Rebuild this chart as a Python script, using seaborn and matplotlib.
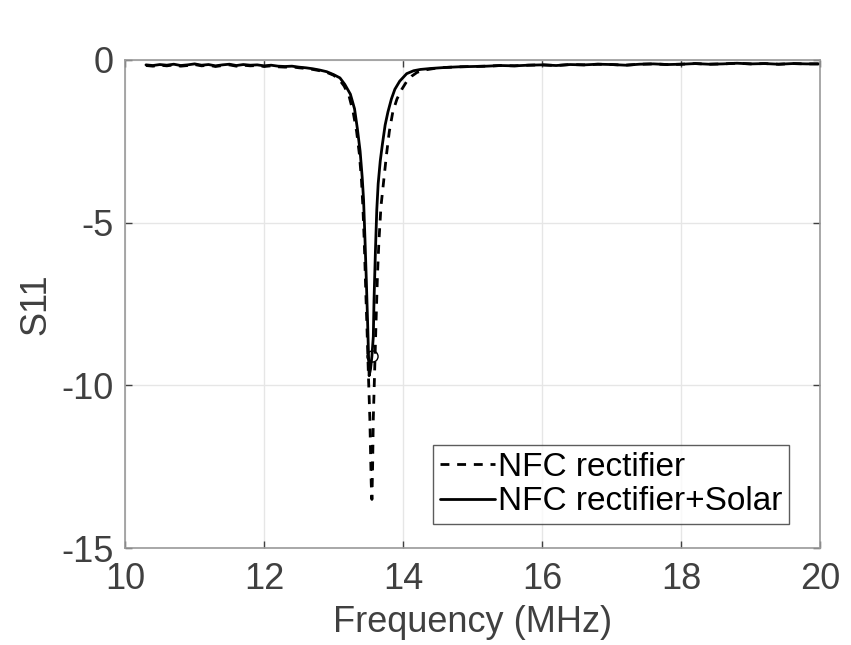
import numpy as np
import pandas as pd
import matplotlib
matplotlib.use("Agg")
import matplotlib.pyplot as plt
import seaborn as sns

# Data (frequency in MHz, S11)
freq_base_left = [10.30, 10.40, 10.50, 10.60, 10.70, 10.80, 10.90, 11.00, 11.10, 11.20,
                  11.30, 11.40, 11.50, 11.60, 11.70, 11.80, 11.90, 12.00, 12.10, 12.20,
                  12.30, 12.40, 12.50, 12.60, 12.70, 12.80, 12.90]
s11_base_left = [-0.15, -0.17, -0.14, -0.16, -0.13, -0.17, -0.15, -0.12, -0.16, -0.14,
                 -0.18, -0.15, -0.13, -0.17, -0.14, -0.16, -0.15, -0.18, -0.16, -0.19,
                 -0.20, -0.19, -0.22, -0.24, -0.27, -0.31, -0.36]

freq_base_right = [14.60, 14.80, 15.00, 15.20, 15.40, 15.60, 15.80, 16.00, 16.20, 16.40,
                   16.60, 16.80, 17.00, 17.20, 17.40, 17.60, 17.80, 18.00, 18.20, 18.40,
                   18.60, 18.80, 19.00, 19.20, 19.40, 19.60, 19.80, 20.00]
s11_base_right = [-0.23, -0.21, -0.20, -0.19, -0.17, -0.18, -0.16, -0.15, -0.17, -0.14,
                  -0.15, -0.13, -0.14, -0.16, -0.13, -0.12, -0.14, -0.13, -0.11, -0.13,
                  -0.12, -0.10, -0.12, -0.11, -0.13, -0.11, -0.12, -0.12]

# NFC rectifier (dashed) resonance
freq_nfc_dip = [13.00, 13.08, 13.15, 13.22, 13.28, 13.33, 13.37, 13.40, 13.42, 13.44,
                13.46, 13.48, 13.50, 13.52, 13.53, 13.54, 13.55, 13.56, 13.57, 13.59,
                13.61, 13.63, 13.65, 13.68, 13.72, 13.76, 13.80, 13.85, 13.91, 13.98,
                14.05, 14.12, 14.20, 14.30, 14.45]
s11_nfc_dip = [-0.47, -0.60, -0.80, -1.10, -1.60, -2.20, -2.90, -3.70, -4.50, -5.60,
               -7.00, -8.30, -9.70, -11.0, -12.0, -13.0, -13.5, -12.5, -11.0, -9.50,
               -8.00, -6.60, -5.60, -4.50, -3.70, -2.90, -2.20, -1.60, -1.20, -0.90,
               -0.66, -0.50, -0.38, -0.31, -0.26]

# NFC rectifier+Solar (solid) resonance
freq_solar_dip = [13.00, 13.09, 13.16, 13.24, 13.30, 13.34, 13.38, 13.41, 13.43, 13.45,
                  13.47, 13.49, 13.50, 13.51, 13.53, 13.55, 13.57, 13.58, 13.60, 13.62,
                  13.64, 13.67, 13.70, 13.74, 13.78, 13.83, 13.88, 13.95, 14.05, 14.15,
                  14.25, 14.40]
s11_solar_dip = [-0.45, -0.55, -0.75, -1.05, -1.50, -2.10, -2.80, -3.60, -4.30, -5.50,
                 -6.80, -8.20, -9.00, -9.70, -9.50, -9.10, -8.50, -7.40, -5.90, -4.60,
                 -3.80, -3.10, -2.60, -2.00, -1.60, -1.20, -0.90, -0.65, -0.42, -0.33,
                 -0.29, -0.26]

marker_freq = [13.55]
marker_s11 = [-9.1]

nfc = pd.DataFrame({"freq": freq_base_left + freq_nfc_dip + freq_base_right,
                    "s11": [v - 0.02 for v in s11_base_left] + s11_nfc_dip + s11_base_right})
solar = pd.DataFrame({"freq": freq_base_left + freq_solar_dip + freq_base_right,
                      "s11": s11_base_left + s11_solar_dip + s11_base_right})

sns.set_theme(style="white")
plt.rcParams["font.family"] = ["Liberation Sans", "DejaVu Sans"]
plt.rcParams["axes.unicode_minus"] = False

fig = plt.figure(figsize=(8.51, 6.45), dpi=100)
ax = fig.add_axes([0.147, 0.150, 0.817, 0.757])

sns.lineplot(data=nfc, x="freq", y="s11", ax=ax, color="black", linewidth=2.0,
             dashes=False, label="NFC rectifier", sort=False)
ax.lines[-1].set_dashes((3.2, 2.8))
sns.lineplot(data=solar, x="freq", y="s11", ax=ax, color="black", linewidth=2.0,
             label="NFC rectifier+Solar", sort=False)
ax.plot(marker_freq, marker_s11, marker="o", markersize=8, markerfacecolor="none",
        markeredgecolor="black", markeredgewidth=1.0, linestyle="none")

ax.set_xlim(10, 20)
ax.set_ylim(-15, 0)
ax.set_xticks([10, 12, 14, 16, 18, 20])
ax.set_yticks([-15, -10, -5, 0])
ax.grid(True, color="#e6e6e6", linewidth=1.0)

text_col = "#404040"
ax.set_xlabel("Frequency (MHz)", fontsize=26, color=text_col, labelpad=6)
ax.set_ylabel("S11", fontsize=26, color=text_col, labelpad=6)
ax.tick_params(axis="both", labelsize=26, colors=text_col, direction="in",
               length=5, width=1.0, top=True, right=True, left=True, bottom=True,
               pad=8)
ax.tick_params(axis="x", pad=10)
for tl in ax.get_xticklines() + ax.get_yticklines():
    tl.set_color("#999999")
for sp in ax.spines.values():
    sp.set_color("#999999")
    sp.set_linewidth(1.2)

leg = ax.legend(loc="lower right", bbox_to_anchor=(0.955, 0.05), fontsize=24,
                frameon=True, fancybox=False, handlelength=1.65, handletextpad=0.1,
                borderpad=0.2, labelspacing=0.1, borderaxespad=0.0)
leg.get_frame().set_edgecolor("#333333")
leg.get_frame().set_linewidth(1.0)
for t in leg.get_texts():
    t.set_color("black")

fig.savefig("out.png", dpi=100, facecolor="white")
